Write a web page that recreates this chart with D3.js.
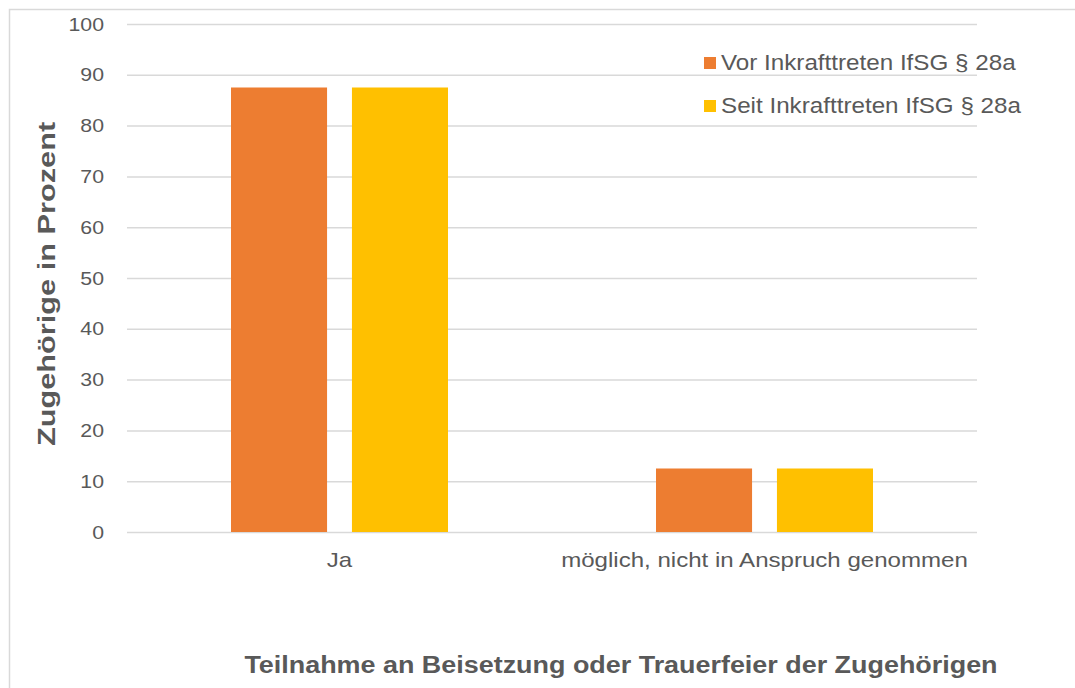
<!DOCTYPE html>
<html><head><meta charset="utf-8">
<script src="https://cdn.jsdelivr.net/npm/d3@7"></script>
<style>body{margin:0;background:#fff}svg{display:block}text{font-family:"Liberation Sans",Arial,sans-serif}</style>
</head><body>
<script>
const categories = ["Ja", "möglich, nicht in Anspruch genommen"];
const seriesNames = ["Vor Inkrafttreten IfSG § 28a", "Seit Inkrafttreten IfSG § 28a"];
const vorValues = [87.5, 12.5];
const seitValues = [87.5, 12.5];
const yTicks = [0, 10, 20, 30, 40, 50, 60, 70, 80, 90, 100];
const colors = ["#ED7D31", "#FFC000"];
const yTitle = "Zugehörige in Prozent";
const xTitle = "Teilnahme an Beisetzung oder Trauerfeier der Zugehörigen";

const W = 1075, H = 688;
const svg = d3.select("body").append("svg").attr("width", W).attr("height", H);
svg.append("rect").attr("x", 9.5).attr("y", 9.5).attr("width", 1200).attr("height", 1000)
  .attr("fill", "#fff").attr("stroke", "#d9d9d9").attr("stroke-width", 1.5);

// horizontally stretch text along its direction (reference glyphs are wider than Arial)
function stretch(sel, f) {
  sel.each(function () {
    const L = this.getComputedTextLength();
    d3.select(this).attr("textLength", L * f).attr("lengthAdjust", "spacingAndGlyphs");
  });
}

const pLeft = 127, pRight = 977, pTop = 24, pBottom = 532;
const y = d3.scaleLinear().domain([0, 100]).range([pBottom, pTop]);
const x0 = d3.scaleBand().domain(categories).range([pLeft, pRight]).paddingInner(0).paddingOuter(0);
const x1 = d3.scaleBand().domain([0, 1]).range([104, 321]).paddingInner(25 / 121.5).paddingOuter(0);

// gridlines + y tick labels
const yAxis = d3.axisLeft(y).tickValues(yTicks).tickSize(-(pRight - pLeft)).tickPadding(23);
const gy = svg.append("g").attr("transform", `translate(${pLeft},0)`).call(yAxis);
gy.select(".domain").remove();
gy.selectAll(".tick line").attr("stroke", "#d9d9d9").attr("stroke-width", 1.5);
gy.selectAll(".tick text").attr("fill", "#595959").style("font-size", "19px").call(stretch, 1.12);

// bars
const series = [vorValues, seitValues];
const groups = svg.append("g").selectAll("g").data(categories).join("g")
  .attr("transform", d => `translate(${x0(d)},0)`);
groups.selectAll("rect").data((d, i) => series.map((s, j) => ({ j, v: s[i] }))).join("rect")
  .attr("x", d => x1(d.j)).attr("width", x1.bandwidth())
  .attr("y", d => y(d.v)).attr("height", d => y(0) - y(d.v))
  .attr("fill", d => colors[d.j]);

// x axis labels
const xAxis = d3.axisBottom(x0).tickSize(0).tickPadding(20);
const gx = svg.append("g").attr("transform", `translate(0,${pBottom})`).call(xAxis);
gx.select(".domain").remove();
gx.selectAll(".tick text").attr("fill", "#595959").style("font-size", "21px").call(stretch, 1.146);

// legend
const lg = svg.append("g").selectAll("g").data(seriesNames).join("g")
  .attr("transform", (d, i) => `translate(704,${57 + i * 43})`);
lg.append("rect").attr("width", 12).attr("height", 12).attr("fill", (d, i) => colors[i]);
lg.append("text").attr("x", 17).attr("y", 13).attr("fill", "#595959").style("font-size", "22px")
  .text(d => d).call(stretch, 1.1);

// titles
svg.append("text").attr("transform", "translate(55,284) rotate(-90)").attr("text-anchor", "middle")
  .attr("fill", "#595959").style("font-size", "24px").style("font-weight", "bold").text(yTitle).call(stretch, 1.28);
svg.append("text").attr("x", 621).attr("y", 673).attr("text-anchor", "middle")
  .attr("fill", "#595959").style("font-size", "23px").style("font-weight", "bold").text(xTitle).call(stretch, 1.17);
</script>
</body></html>
